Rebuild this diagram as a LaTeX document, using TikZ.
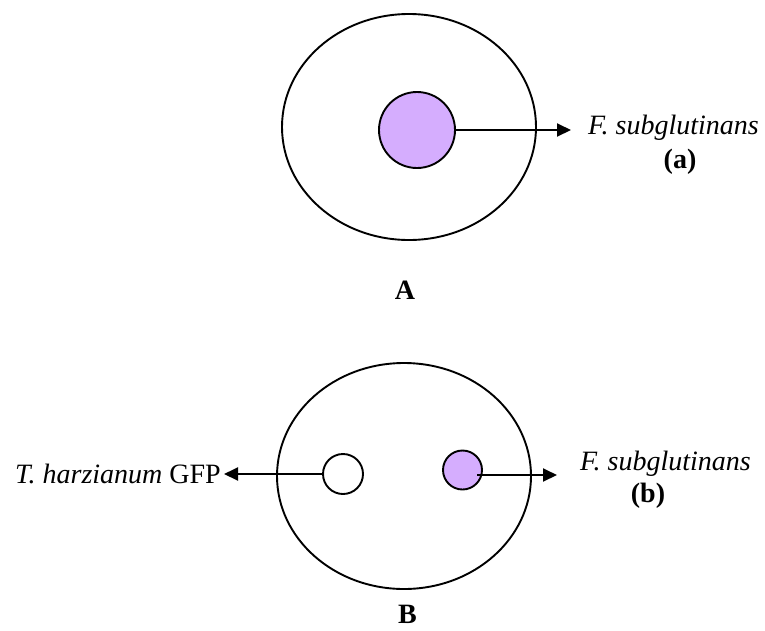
\documentclass[tikz,border=0pt]{standalone}
\usepackage{fontspec}
\setmainfont{Liberation Serif}
\usetikzlibrary{shapes.geometric,arrows.meta}
\definecolor{lav}{HTML}{D5ADFE}
\begin{document}
\begin{tikzpicture}[x=1pt,y=-1pt,
 dish/.style={draw,ellipse,line width=1.9pt,inner sep=0pt,outer sep=0pt,minimum width=254pt,minimum height=226pt},
 colony/.style={draw,circle,line width=1.9pt,inner sep=0pt,outer sep=0pt},
 arr/.style={line width=1.9pt,-{Triangle[length=14pt,width=13pt]}},
 lbl/.style={inner sep=0pt,font=\fontsize{28}{33}\selectfont}]
\useasboundingbox (0,0) rectangle (765,630);
% Panel A
\node[dish] (da) at (409,127) {};
\node[colony,fill=lav,minimum size=76pt] (pa) at (417,130) {};
\coordinate (ta) at (571,130);
\draw[arr] (pa.east) -- (ta);
\node[lbl,anchor=base west] (fa) at (588,134) {\itshape F. subglutinans};
\node[lbl,anchor=base] (la) at (680,168) {\bfseries (a)};
\node[lbl,anchor=base] (capA) at (405,299) {\bfseries A};
% Panel B
\node[dish] (db) at (404,476) {};
\node[colony,fill=white,minimum size=40pt] (wc) at (343,474) {};
\node[colony,fill=lav,minimum size=39pt] (pb) at (462.5,470) {};
\coordinate (tl) at (224,474);
\draw[arr] (wc.west) -- (tl);
\coordinate (sb) at ([shift={(14.5,5)}]pb.center);
\coordinate (tb) at (557,475);
\draw[arr] (sb) -- (tb);
\node[lbl,anchor=base east] (th) at (221,483) {\itshape T. harzianum\/\upshape{} GFP};
\node[lbl,anchor=base west] (fb) at (580,470) {\itshape F. subglutinans};
\node[lbl,anchor=base] (lb) at (648,502) {\bfseries (b)};
\node[lbl,anchor=base] (capB) at (407.5,623) {\bfseries B};
\end{tikzpicture}
\end{document}
